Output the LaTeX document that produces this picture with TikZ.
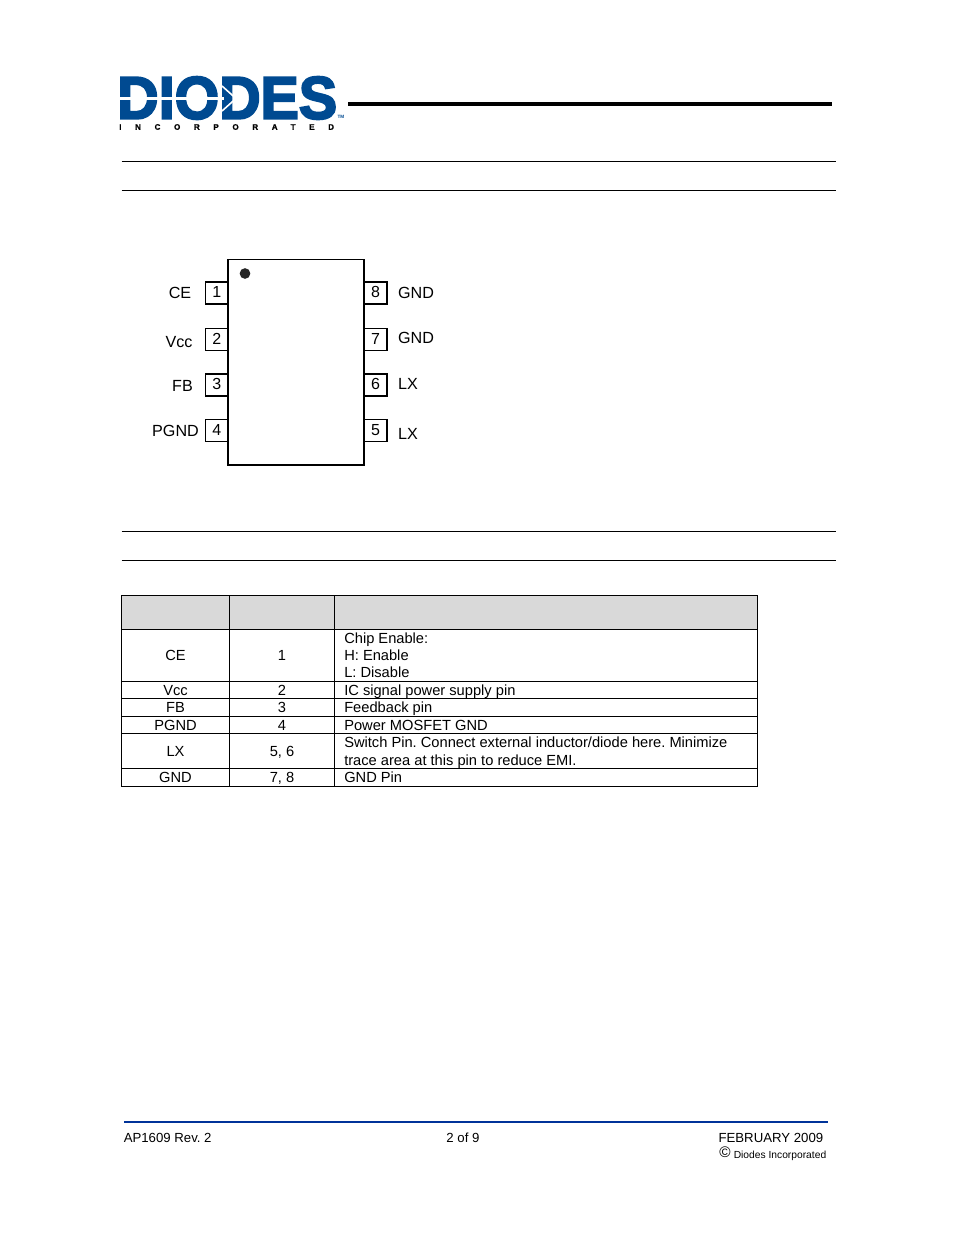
\documentclass[tikz,border=0pt]{standalone}
\usepackage{fontspec}
\setmainfont{Liberation Sans}
\newfontfamily\logofont[BoldFeatures={FakeBold=3.5}]{Liberation Sans}
\newfontfamily\subfont[BoldFeatures={LetterSpace=171,FakeBold=1}]{Liberation Sans}
\usetikzlibrary{positioning}
\definecolor{logoblue}{HTML}{004A91}
\definecolor{footblue}{HTML}{003399}
\definecolor{headgray}{HTML}{D9D9D9}
\tikzset{
  cell/.style={anchor=base,inner sep=0pt,font=\fontsize{11}{13}\selectfont},
  desc/.style={anchor=base west,inner sep=0pt,font=\fontsize{11}{13}\selectfont},
  pinbox/.style={draw,line width=1.2pt,minimum width=16.9pt,minimum height=16.6pt,inner sep=0pt,text depth=1.2pt,font=\fontsize{12}{14}\selectfont},
  pinname/.style={anchor=base,inner sep=0pt,font=\fontsize{12.1}{14}\selectfont},
  foot/.style={inner sep=0pt,font=\fontsize{9.9}{12}\selectfont}
}
\begin{document}
\frenchspacing
\begin{tikzpicture}[x=0.75pt,y=-0.75pt]
  \useasboundingbox (0,0) rectangle (954,1235);

  % logo
  \node[anchor=west,inner sep=0pt,text=logoblue] (logo) at (117,98)
    {\scalebox{.935}[.98]{\fontsize{46}{46}\logofont\bfseries DIODES}};
  \draw[white,line width=1.7pt] (119,98.5) -- (224,98.5);
  \draw[white,line width=1.2pt] (222,86) -- (236,98.5) -- (222,111);
  \node[anchor=west,inner sep=0pt,font=\fontsize{6}{7}\subfont\bfseries] (sub) at (119,127) {INCORPORATED};
  \node[inner sep=0pt,text=logoblue,font=\fontsize{3.5}{4}\selectfont\bfseries] (tm) at (341,117) {TM};
  \draw[line width=3pt] (348,103.5) -- (832,103.5);

  % section rules
  \foreach \ry in {161,190,531,560}
    \draw[line width=.6pt] (121.5,\ry) -- (836,\ry);

  % package
  \foreach \num/\py in {1/293,2/339.5,3/385,4/430.5}
    \node[pinbox] (pin\num) at (216.8,\py) {\num};
  \foreach \num/\py in {8/293,7/339.5,6/385,5/430.5}
    \node[pinbox] (pin\num) at (375.5,\py) {\num};
  \node[draw,fill=white,line width=1.2pt,minimum width=102.3pt,minimum height=154pt,inner sep=0pt] (chip) at (296,362.2) {};
  \node[circle,fill=black!85,minimum size=8pt,inner sep=0pt] (dot) at (245,273.5) {};

  \node[pinname] (ce) at (180,298.5) {CE};
  \node[pinname] (vcc) at (179,347) {Vcc};
  \node[pinname] (fb) at (182.5,391) {FB};
  \node[pinname] (pgnd) at (175.5,436) {PGND};
  \node[pinname] (gnd8) at (416,298) {GND};
  \node[pinname] (gnd7) at (416,343) {GND};
  \node[pinname] (lx6) at (408,389) {LX};
  \node[pinname] (lx5) at (408,439) {LX};

  % table
  \fill[headgray] (121.5,595.5) rectangle (757.5,629.5);
  \foreach \ty in {595.5,629.5,681.5,698.5,716.5,733.5,768.5,786.5}
    \draw[line width=.7pt] (121,\ty) -- (758,\ty);
  \foreach \tx in {121.5,229.5,334.5,757.5}
    \draw[line width=.7pt] (\tx,595.5) -- (\tx,786.5);

  \node[cell] (rce) at (175.5,660) {CE};
  \node[cell] (rvcc) at (175.5,695) {Vcc};
  \node[cell] (rfb) at (175.5,712) {FB};
  \node[cell] (rpgnd) at (175.5,730) {PGND};
  \node[cell] (rlx) at (175.5,756) {LX};
  \node[cell] (rgnd) at (175.5,782) {GND};
  \node[cell] (none) at (282,660) {1};
  \node[cell] (ntwo) at (282,695) {2};
  \node[cell] (nthree) at (282,712) {3};
  \node[cell] (nfour) at (282,730) {4};
  \node[cell] (nlx) at (282,756) {5, 6};
  \node[cell] (ngnd) at (282,782) {7, 8};
  \node[desc] (dchip) at (344,643) {Chip Enable:};
  \node[desc] (dhigh) at (344,660) {H: Enable};
  \node[desc] (dlow) at (344,677) {L: Disable};
  \node[desc] (dvcc) at (344,695) {IC signal power supply pin};
  \node[desc] (dfb) at (344,712) {Feedback pin};
  \node[desc] (dpgnd) at (344,730) {Power MOSFET GND};
  \node[desc] (dswitch) at (344,747) {Switch Pin. Connect external inductor/diode here. Minimize};
  \node[desc] (dtrace) at (344,765) {trace area at this pin to reduce EMI.};
  \node[desc] (dgnd) at (344,782) {GND Pin};

  % footer
  \draw[footblue,line width=2.2pt] (124,1122) -- (828,1122);
  \node[foot,anchor=base west] (rev) at (123.5,1142) {AP1609 Rev. 2};
  \node[foot,anchor=base] (page) at (463,1142) {2 of 9};
  \node[foot,anchor=base east] (date) at (823.5,1142) {FEBRUARY 2009};
  \node[foot,anchor=base east,font=\fontsize{7.7}{9}\selectfont] (copy) at (826.5,1158) {Diodes Incorporated};
  \node[foot,anchor=base east,font=\fontsize{11.5}{12}\selectfont] (csign) at (731,1157.5) {\textcopyright};
\end{tikzpicture}
\end{document}
